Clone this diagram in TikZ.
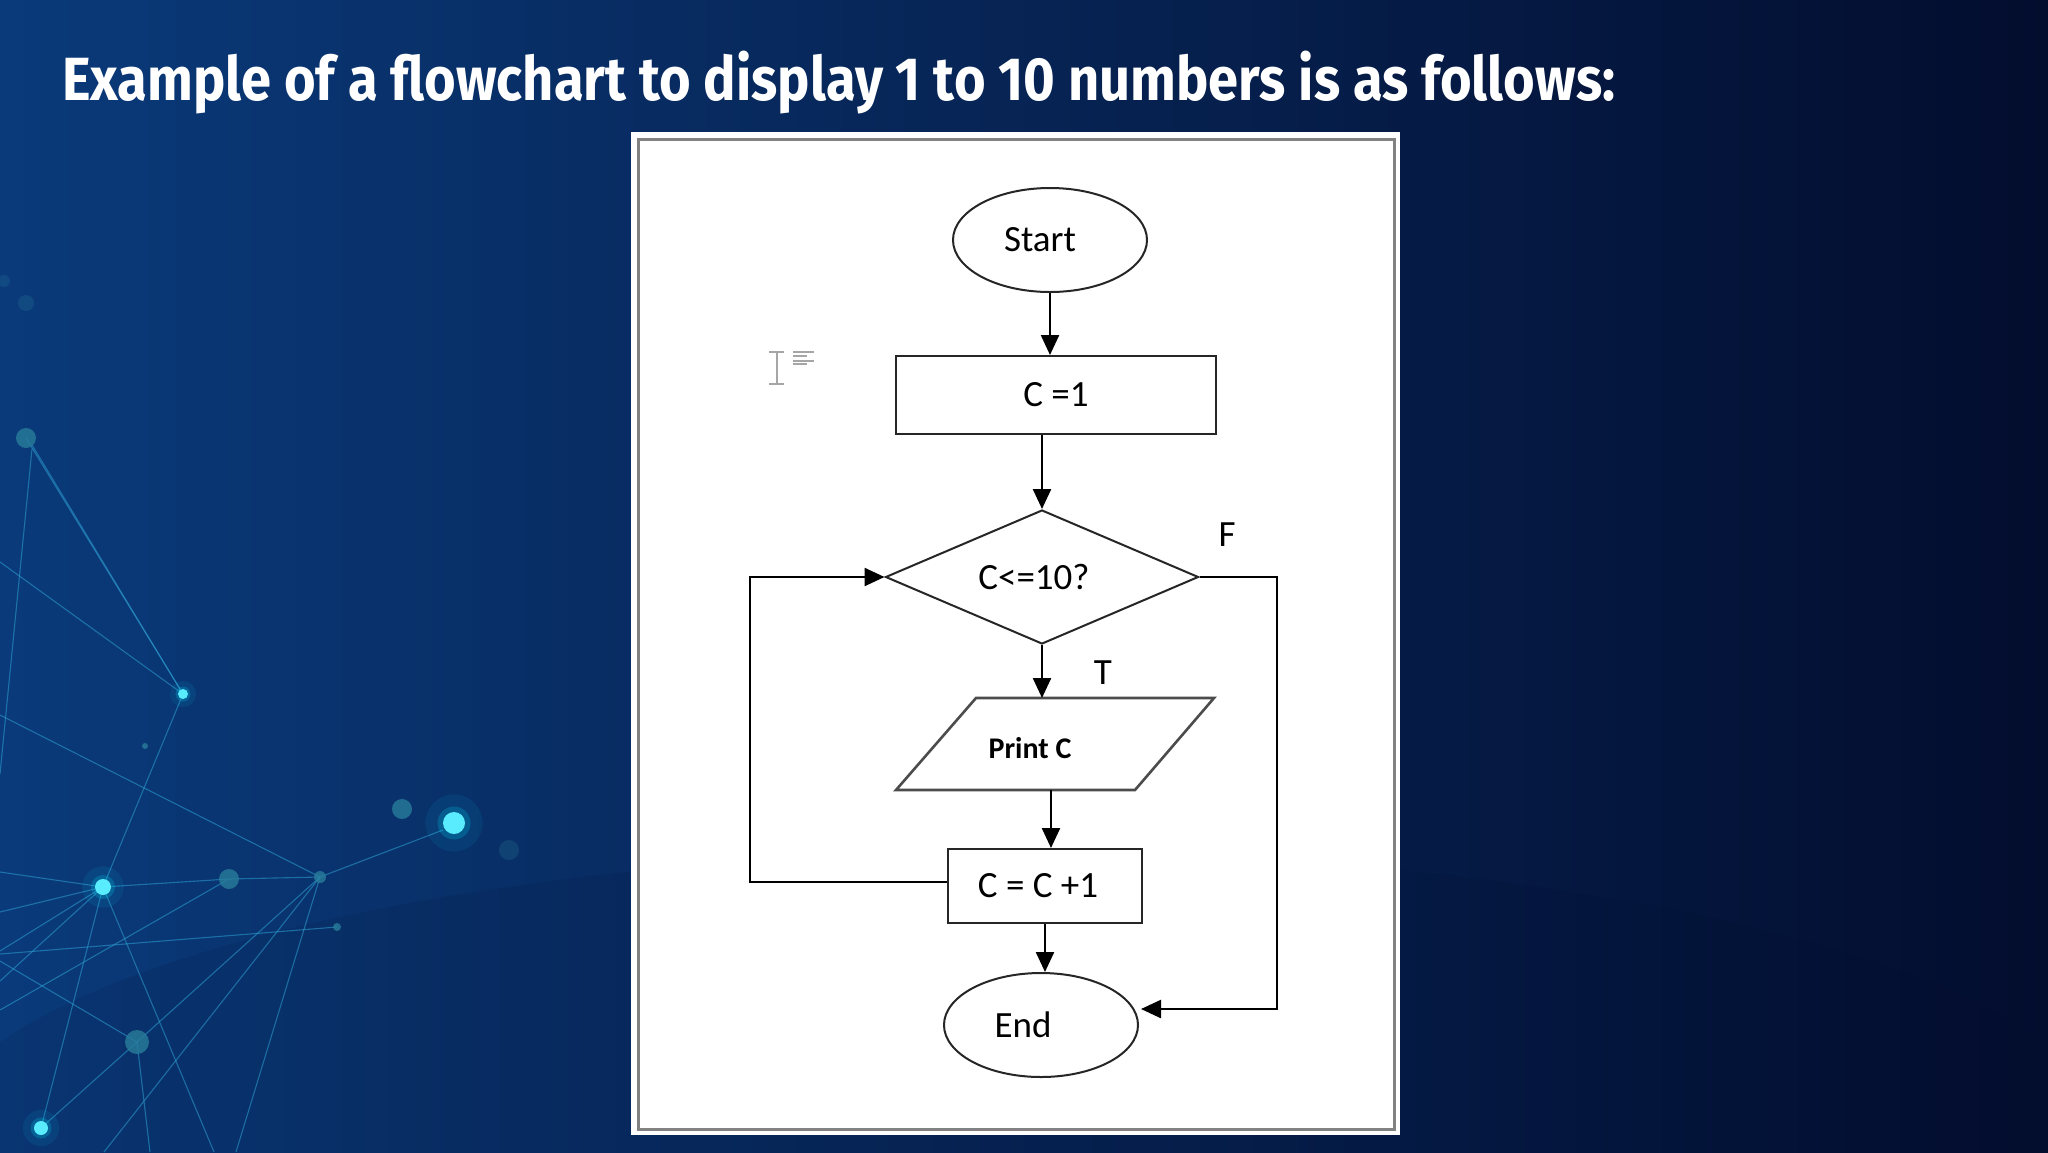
\documentclass[tikz,border=0pt]{standalone}
\usepackage{fontspec}
\usepackage{graphicx}
\setmainfont{Carlito}
\newfontfamily\titlefont{Fira Sans}
\usetikzlibrary{shapes.geometric,arrows.meta,calc}
\definecolor{bgL}{RGB}{10,58,122}
\definecolor{bgM}{RGB}{5,32,86}
\definecolor{bgR}{RGB}{3,13,46}
\definecolor{netc}{RGB}{45,160,210}
\definecolor{dotc}{RGB}{40,125,155}
\definecolor{glowc}{RGB}{0,225,255}
\definecolor{framegray}{RGB}{130,130,130}
\begin{document}
\begin{tikzpicture}[x=1pt,y=-1pt,
  box/.style={draw=black!85, line width=2pt, fill=white, inner sep=0pt, font=\fontsize{37}{40}\selectfont},
  term/.style={box, ellipse, minimum width=194pt, minimum height=104pt},
  proc/.style={box, rectangle},
  flow/.style={line width=2.4pt, -{Triangle[length=20pt,width=18pt]}},
  lbl/.style={font=\fontsize{37}{40}\selectfont, inner sep=0pt},
  net/.style={netc, line width=1.1pt, opacity=0.55},
]
\useasboundingbox (0,0) rectangle (2048,1152);
% background
\shade[left color=bgL, middle color=bgM, right color=bgR] (0,0) rectangle (2048,1152);
\fill[bgR, opacity=0.1] (1024,1152) ellipse (1100 and 300);
% network lines
\draw[net] (26,438) -- (183,694);
\draw[net] (32,445) -- (183,694);
\draw[net] (32,449) -- (0,774);
\draw[net] (0,562) -- (183,694);
\draw[net] (183,694) -- (103,887);
\draw[net] (0,715) -- (320,877);
\draw[net] (103,887) -- (229,879) -- (320,877);
\draw[net] (320,877) -- (443,830);
\draw[net] (103,887) -- (0,872);
\draw[net] (103,887) -- (0,912);
\draw[net] (103,887) -- (0,951);
\draw[net] (103,887) -- (0,981);
\draw[net] (0,954) -- (337,927);
\draw[net] (320,877) -- (137,1042);
\draw[net] (320,877) -- (104,1152);
\draw[net] (320,877) -- (236,1152);
\draw[net] (103,887) -- (41,1128);
\draw[net] (103,887) -- (214,1152);
\draw[net] (137,1042) -- (150,1152);
\draw[net] (137,1042) -- (41,1128);
\draw[net] (0,961) -- (137,1042);
\draw[net] (0,1010) -- (229,879);
% plain dots
\foreach \x/\y/\r in {26/438/10, 145/746/3, 402/809/10, 229/879/10, 320/877/6, 337/927/4, 137/1042/12}
  \fill[dotc, opacity=0.8] (\x,\y) circle (\r);
\foreach \x/\y/\r in {26/303/8, 509/850/10, 4/281/6}
  \fill[dotc, opacity=0.25] (\x,\y) circle (\r);
% glowing dots
\foreach \x/\y/\r in {183/694/5, 103/887/8, 41/1128/7, 454/823/11}{
  \fill[glowc, opacity=0.08] (\x,\y) circle (\r*2.6);
  \fill[glowc, opacity=0.2] (\x,\y) circle (\r*1.5);
  \fill[white!35!glowc] (\x,\y) circle (\r);
}
% title
\node[anchor=base west, inner sep=0pt, text=white, font=\titlefont\bfseries\fontsize{61}{64}\selectfont] (title) at (62,100)
  {\resizebox{1553pt}{\height}{Example of a flowchart to display 1 to 10 numbers is as follows:}};
% frame
\fill[white] (631,132) rectangle (1400,1135);
\draw[framegray, line width=3pt] (638,139) rectangle (1394,1129);
% cursor icon
\draw[gray!70, line width=1.2pt] (777,352) -- (777,384) (769,352) -- (784,352) (769,384) -- (784,384);
\draw[gray!70, line width=1.2pt] (793,352) -- (814,352) (793,356) -- (807,356) (793,361) -- (814,361) (793,364) -- (807,364);
% flowchart
\node[term] (start) at (1050,240) {Start\hspace*{20pt}};
\node[proc, minimum width=320pt, minimum height=78pt] (c1) at (1056,395) {C =1};
\node[box, diamond, aspect=2.34, minimum width=313pt, minimum height=134pt] (dec) at (1042,577) {C<=10?\hspace*{16pt}};
\draw[draw=black!70, line width=2.6pt, fill=white] (976,698) -- (1214,698) -- (1135,790) -- (896,790) -- cycle;
\node[lbl, font=\bfseries\fontsize{30}{32}\selectfont] (pc) at (1030,748) {Print C};
\coordinate (ptop) at (1046,698);
\coordinate (pbot) at (1051,790);
\node[proc, minimum width=194pt, minimum height=74pt] (c2) at (1045,886) {C = C +1\hspace*{14pt}};
\node[term] (endn) at (1041,1025) {End\hspace*{36pt}};
\node[lbl] (tl) at (1103,673) {T};
\node[lbl] (fl) at (1227,535) {F};
\coordinate (lx) at (750,882);
\coordinate (rx) at (1277,577);
\draw[flow] (start.south) -- (start.south |- c1.north);
\draw[flow] (c1.south -| dec.north) -- (dec.north);
\draw[flow] (dec.south) -- (dec.south |- ptop);
\draw[flow] (pbot) -- (pbot |- c2.north);
\draw[flow] (c2.south) -- (c2.south |- endn.north);
\draw[flow] (c2.west |- lx) -- (lx) |- (dec.west);
\draw[flow] (dec.east) -- (rx) |- ($(endn.east)+(2,-16)$);
\end{tikzpicture}
\end{document}
